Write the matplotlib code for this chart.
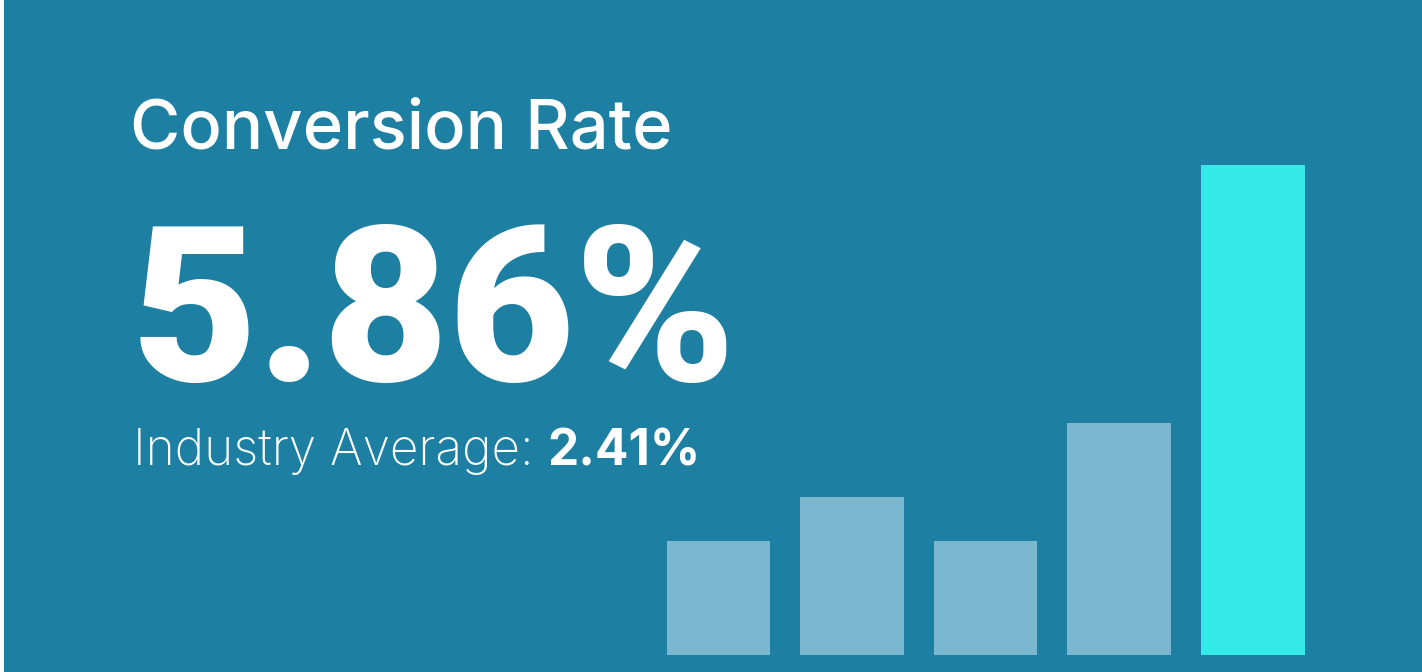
import matplotlib
matplotlib.use("Agg")
import matplotlib.pyplot as plt
from matplotlib.patches import Rectangle

# ---- data ----
categories = ["P1", "P2", "P3", "P4", "Current"]
values = [1.36, 1.89, 1.36, 2.77, 5.86]
highlight = [False, False, False, False, True]
title_text = "Conversion Rate"
big_value_text = "5.86%"
avg_label_text = "Industry Average: "
avg_value_text = "2.41%"

# ---- style ----
BG = "#1d7fa2"
BAR_LIGHT = "#7bb8cf"
BAR_HL = "#36e9e9"
W, H = 1422, 672
FONT = ["Inter", "DejaVu Sans"]
BIG_FONT = ["Roboto", "DejaVu Sans"]

fig = plt.figure(figsize=(W / 100, H / 100), dpi=100)
fig.patch.set_facecolor("white")
fig.add_artist(Rectangle((4 / W, 0), 1 - 4 / W, 1, transform=fig.transFigure,
                         facecolor=BG, edgecolor="none", zorder=0))

# ---- bars ----
pitch = 133.6
c0 = 718.4
left_px = c0 - 0.5 * pitch
right_px = c0 + 4.5 * pitch
bottom_px = H - 655
top_px = H - 100
ax = fig.add_axes([left_px / W, bottom_px / H, (right_px - left_px) / W,
                   (top_px - bottom_px) / H])
ax.set_facecolor("none")
px_per_unit = 83.7
ax.set_xlim(-0.5, 4.5)
ax.set_ylim(0, (top_px - bottom_px) / px_per_unit)
colors = [BAR_HL if h else BAR_LIGHT for h in highlight]
ax.bar(range(len(values)), values, width=0.775, color=colors, linewidth=0)
ax.axis("off")

# ---- text ----
fig.canvas.draw()
renderer = fig.canvas.get_renderer()


def fit_text(s, x_left, baseline, target_right, fs, weight, family):
    t = fig.text(x_left / W, (H - baseline) / H, s, fontsize=fs, color="white",
                 ha="left", va="baseline", fontweight=weight, family=family)
    bb = t.get_window_extent(renderer)
    fs2 = fs * (target_right - x_left) / bb.width
    t.set_fontsize(fs2)
    bb = t.get_window_extent(renderer)
    dx = x_left - bb.x0
    t.set_x((x_left + dx) / W)
    return t


fit_text(title_text, 130, 148.5, 672, 50, "medium", FONT)
fit_text(big_value_text, 132, 381, 737, 160, "black", BIG_FONT)

# Industry average line: two weights
t1 = fig.text(133 / W, (H - 465) / H, avg_label_text, fontsize=38, color="white",
              ha="left", va="baseline", fontweight="light", family=FONT)
t2 = fig.text(0, (H - 465) / H, avg_value_text, fontsize=38, color="white",
              ha="left", va="baseline", fontweight="bold", family=FONT)
for _ in range(3):
    bb1 = t1.get_window_extent(renderer)
    t2.set_x(bb1.x1 / W)
    bb2 = t2.get_window_extent(renderer)
    total = bb2.x1 - bb1.x0
    scale = (701 - 133) / total
    t1.set_fontsize(t1.get_fontsize() * scale)
    t2.set_fontsize(t2.get_fontsize() * scale)
    bb1 = t1.get_window_extent(renderer)
    t1.set_x((t1.get_position()[0] * W + (133 - bb1.x0)) / W)
bb1 = t1.get_window_extent(renderer)
t2.set_x(bb1.x1 / W)

fig.savefig("out.png", dpi=100, facecolor=fig.get_facecolor())
